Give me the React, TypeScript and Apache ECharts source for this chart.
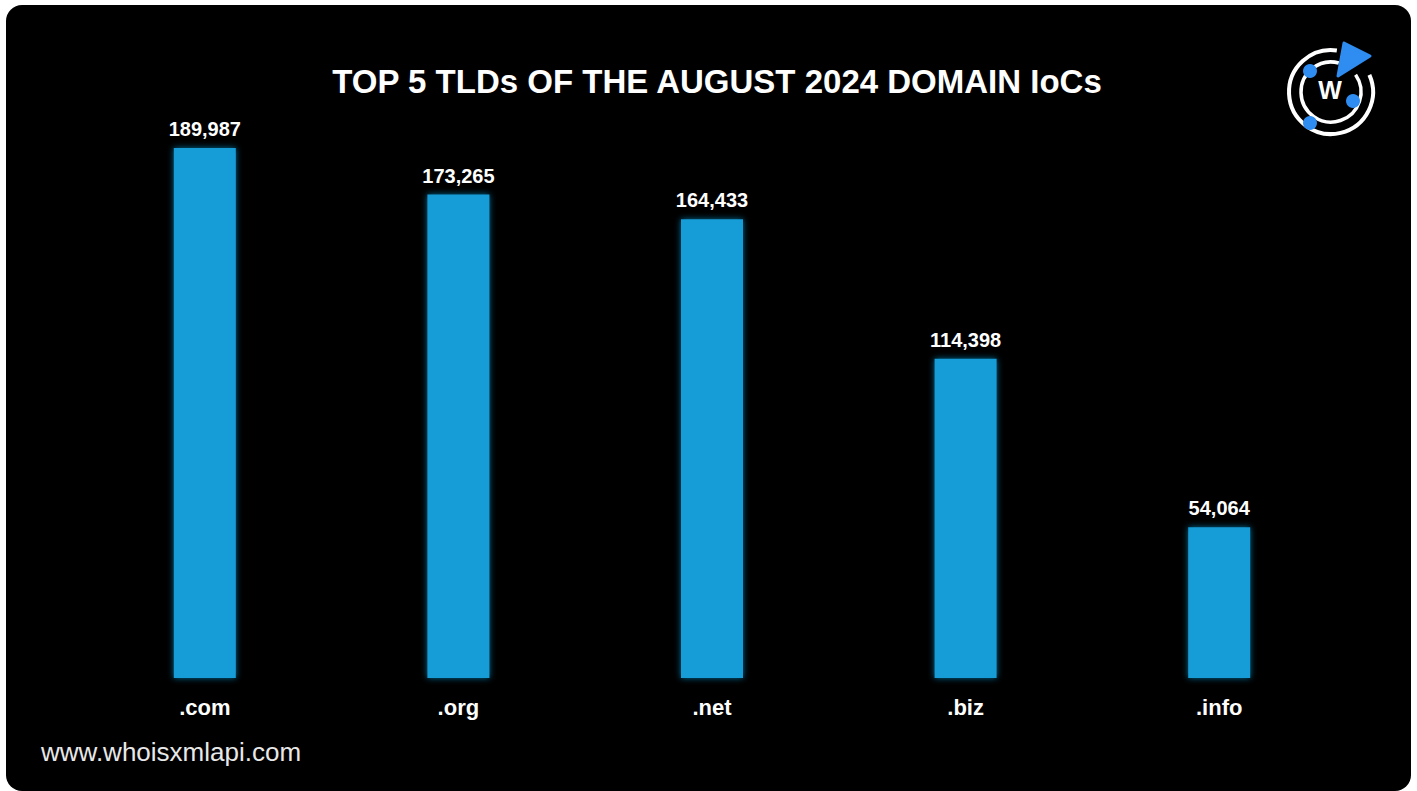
import React, { useEffect, useRef } from "react";
import * as echarts from "echarts";

const TITLE = "TOP 5 TLDs OF THE AUGUST 2024 DOMAIN IoCs";
const WATERMARK = "www.whoisxmlapi.com";
const categories = [".com", ".org", ".net", ".biz", ".info"];
const values = [189987, 173265, 164433, 114398, 54064];

const FONT = "'Liberation Sans', Arial, Helvetica, sans-serif";
const BAR = "#149dd8";
const LOGO_BLUE = "#2f8cf0";

export default function App() {
  const ref = useRef<HTMLDivElement>(null);
  useEffect(() => {
    if (!ref.current) return;
    const chart = echarts.init(ref.current, null, { renderer: "svg" });
    const cx = 1331;
    const cy = 92;
    const deg = (d: number) => (d * Math.PI) / 180;
    chart.setOption({
      animation: false,
      backgroundColor: "#ffffff",
      textStyle: { fontFamily: FONT },
      title: {
        text: TITLE,
        left: 712,
        textAlign: "center",
        top: 60,
        textStyle: { color: "#ffffff", fontSize: 33, fontWeight: "bold", fontFamily: FONT },
      },
      grid: { left: 78, right: 71, top: 120, bottom: 113, containLabel: false },
      xAxis: {
        type: "category",
        data: categories,
        axisLine: { show: false },
        axisTick: { show: false },
        axisLabel: {
          color: "#ffffff",
          fontSize: 22,
          fontWeight: "bold",
          fontFamily: FONT,
          margin: 18,
        },
      },
      yAxis: {
        type: "value",
        min: 0,
        max: 200000,
        show: false,
        splitLine: { show: false },
      },
      series: [
        {
          type: "bar",
          data: values,
          barWidth: 62,
          z: 5,
          itemStyle: {
            color: BAR,
            shadowBlur: 6,
            shadowColor: "rgba(20,157,216,0.7)",
          },
          label: {
            show: true,
            position: "top",
            distance: 9,
            color: "#ffffff",
            fontSize: 20,
            fontWeight: "bold",
            fontFamily: FONT,
            formatter: (p: any) => Number(p.value).toLocaleString("en-US"),
          },
        },
      ],
      graphic: [
        {
          type: "rect",
          z: -10,
          shape: { x: 6, y: 5, width: 1405, height: 786, r: 16 },
          style: { fill: "#000000" },
        },
        {
          type: "text",
          left: 41,
          top: 739,
          z: 10,
          style: {
            text: WATERMARK,
            fill: "#e8e8e8",
            font: `26px ${FONT}`,
          },
        },
        {
          type: "group",
          z: 10,
          children: [
            {
              type: "arc",
              shape: { cx, cy, r: 42, startAngle: deg(-24), endAngle: deg(278), clockwise: true },
              style: { stroke: "#ffffff", lineWidth: 4, fill: "none" },
            },
            {
              type: "arc",
              shape: { cx, cy, r: 30, startAngle: deg(-35), endAngle: deg(285), clockwise: true },
              style: { stroke: "#ffffff", lineWidth: 3.5, fill: "none" },
            },
            {
              type: "polygon",
              shape: { points: [[1344, 43], [1370, 56], [1338, 76]] },
              style: { fill: LOGO_BLUE, stroke: LOGO_BLUE, lineWidth: 3, lineJoin: "round" },
            },
            { type: "circle", shape: { cx: 1310, cy: 71, r: 7 }, style: { fill: LOGO_BLUE } },
            { type: "circle", shape: { cx: 1353, cy: 101, r: 7 }, style: { fill: LOGO_BLUE } },
            { type: "circle", shape: { cx: 1310, cy: 123, r: 7 }, style: { fill: LOGO_BLUE } },
            {
              type: "text",
              x: 1330,
              y: 90,
              style: {
                text: "W",
                fill: "#ffffff",
                font: `bold 25px ${FONT}`,
                align: "center",
                verticalAlign: "middle",
              },
            },
          ],
        },
      ],
    });
    return () => chart.dispose();
  }, []);
  return (
    <div
      ref={ref}
      style={{ position: "fixed", left: 0, top: 0, width: 1417, height: 791 }}
    />
  );
}
